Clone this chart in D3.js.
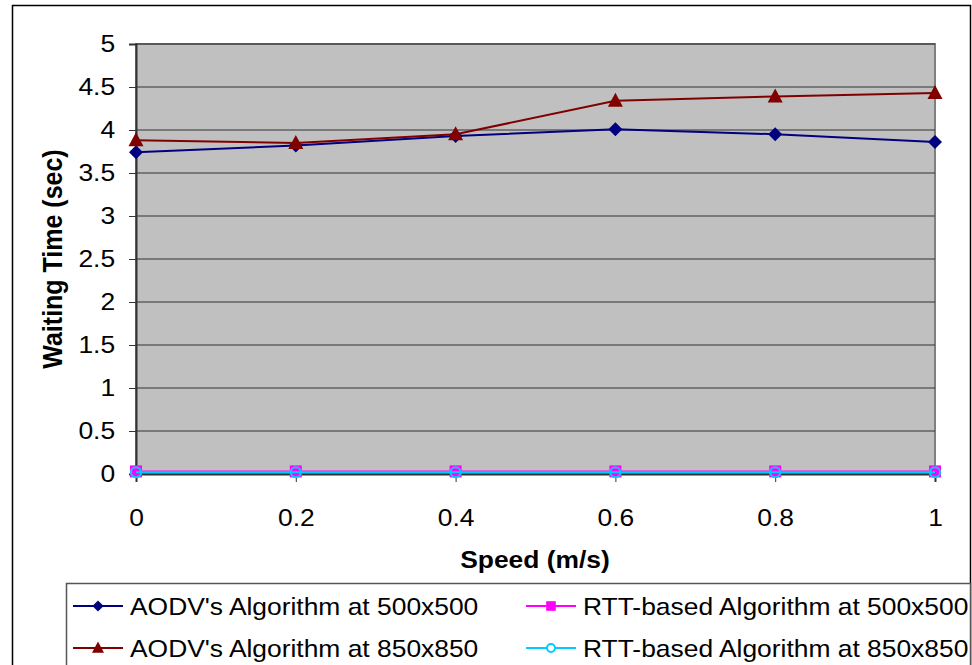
<!DOCTYPE html>
<html>
<head>
<meta charset="utf-8">
<script src="https://cdn.jsdelivr.net/npm/d3@7"></script>
<style>
  body { margin: 0; background: #fff; }
  text { font-family: "Liberation Sans", Arial, sans-serif; }
</style>
</head>
<body>
<div id="chart"></div>
<script>
// chart data
var speeds = [0, 0.2, 0.4, 0.6, 0.8, 1];
var aodv500 = [3.74, 3.82, 3.93, 4.01, 3.95, 3.86];
var aodv850 = [3.88, 3.85, 3.95, 4.34, 4.39, 4.43];
var rtt500 = [0.03, 0.03, 0.03, 0.03, 0.03, 0.03];
var rtt850 = [0.02, 0.02, 0.02, 0.02, 0.02, 0.02];
var yTicks = [0, 0.5, 1, 1.5, 2, 2.5, 3, 3.5, 4, 4.5, 5];
var xTicks = [0, 0.2, 0.4, 0.6, 0.8, 1];
var seriesNames = ["AODV's Algorithm at 500x500", "AODV's Algorithm at 850x850",
                   "RTT-based Algorithm at 500x500", "RTT-based Algorithm at 850x850"];

var series = [
  { name: seriesNames[0], values: aodv500, color: "#000080", marker: "diamond" },
  { name: seriesNames[1], values: aodv850, color: "#800000", marker: "triangle" },
  { name: seriesNames[2], values: rtt500, color: "#ff00ff", marker: "square" },
  { name: seriesNames[3], values: rtt850, color: "#00ccff", marker: "circle" }
];

var W = 972, H = 665;
var FS = 24;          // font size
var SX = 1.1;         // the original is a bit stretched sideways
var svg = d3.select("#chart").append("svg")
  .attr("width", W).attr("height", H);

// outer frame
svg.append("rect")
  .attr("x", 12.5).attr("y", 5.5)
  .attr("width", 958).attr("height", 670)
  .attr("fill", "#fff").attr("stroke", "#000").attr("stroke-width", 1.5);

var plot = { left: 136, right: 935, top: 44, bottom: 474 };

var x = d3.scaleLinear().domain([0, 1]).range([plot.left, plot.right]);
var y = d3.scaleLinear().domain([0, 5]).range([plot.bottom, plot.top]);

// plot background
svg.append("rect")
  .attr("x", plot.left).attr("y", plot.top)
  .attr("width", plot.right - plot.left).attr("height", plot.bottom - plot.top)
  .attr("fill", "#c0c0c0").attr("stroke", "#808080").attr("stroke-width", 2);

// gridlines
svg.selectAll("line.grid")
  .data(yTicks.filter(function(d) { return d > 0; }))
  .enter().append("line")
  .attr("class", "grid")
  .attr("x1", plot.left).attr("x2", plot.right)
  .attr("y1", function(d) { return y(d); })
  .attr("y2", function(d) { return y(d); })
  .attr("stroke", "#333").attr("stroke-width", 1);

// axes
var yAxis = d3.axisLeft(y).tickValues(yTicks).tickSize(7).tickPadding(12)
  .tickFormat(function(d) { return d3.format("")(d); });
var gy = svg.append("g").attr("transform", "translate(" + plot.left + ",0)").call(yAxis);
gy.select(".domain").attr("stroke", "#333").attr("stroke-width", 2);
gy.selectAll(".tick line").attr("stroke", "#333");
gy.selectAll(".tick text").attr("font-size", FS).attr("fill", "#000")
  .attr("transform", "scale(" + SX + ",1)")
  .style("font-family", "Liberation Sans, Arial, sans-serif");

var xAxis = d3.axisBottom(x).tickValues(xTicks).tickSize(8).tickPadding(44)
  .tickFormat(function(d) { return d3.format("")(d); });
var gx = svg.append("g").attr("transform", "translate(0," + plot.bottom + ")").call(xAxis);
gx.select(".domain").attr("stroke", "#333").attr("stroke-width", 2);
gx.selectAll(".tick line").attr("stroke", "#333");
gx.selectAll(".tick text").attr("font-size", FS).attr("fill", "#000")
  .attr("dy", 0)
  .attr("transform", "scale(" + SX + ",1)")
  .style("font-family", "Liberation Sans, Arial, sans-serif");

// axis titles
svg.append("text")
  .attr("transform", "translate(62,259) rotate(-90) scale(1," + SX + ")")
  .attr("text-anchor", "middle")
  .attr("font-size", 25).attr("font-weight", "bold")
  .text("Waiting Time (sec)");

svg.append("text")
  .attr("transform", "translate(535,568) scale(" + SX + ",1)")
  .attr("text-anchor", "middle")
  .attr("font-size", FS).attr("font-weight", "bold")
  .text("Speed (m/s)");

// marker drawing
function drawMarker(g, type, color, cx, cy, k, legendMode) {
  k = k || 1;
  if (type === "diamond") {
    g.append("path").attr("d", "M0,-7L7,0L0,7L-7,0Z")
      .attr("transform", "translate(" + cx + "," + cy + ") scale(" + k + ")")
      .attr("fill", color);
  } else if (type === "triangle") {
    g.append("path").attr("d", "M0,-8L7.5,6L-7.5,6Z")
      .attr("transform", "translate(" + cx + "," + cy + ") scale(" + k + ")")
      .attr("fill", color);
  } else if (type === "square") {
    var h = 6 * k;
    g.append("rect").attr("x", cx - h).attr("y", cy - h)
      .attr("width", 2 * h).attr("height", 2 * h).attr("fill", color);
  } else if (type === "circle") {
    g.append("circle").attr("cx", cx).attr("cy", cy).attr("r", 5 * k)
      .attr("fill", legendMode ? "#fff" : "none")
      .attr("stroke", color).attr("stroke-width", 2);
  }
}

var line = d3.line()
  .x(function(d, i) { return x(speeds[i]); })
  .y(function(d) { return y(d); });

series.forEach(function(s) {
  var g = svg.append("g");
  g.append("path").datum(s.values)
    .attr("d", line)
    .attr("fill", "none")
    .attr("stroke", s.color)
    .attr("stroke-width", 2);
  s.values.forEach(function(v, i) {
    drawMarker(g, s.marker, s.color, x(speeds[i]), y(v), 1, false);
  });
});

// legend
var legend = svg.append("g");
legend.append("rect")
  .attr("x", 66.5).attr("y", 583.5)
  .attr("width", 904).attr("height", 100)
  .attr("fill", "#fff").attr("stroke", "#555").attr("stroke-width", 1.5);

var legendPos = [
  { x: 73, y: 606 }, { x: 73, y: 648 },
  { x: 526, y: 606 }, { x: 526, y: 648 }
];
series.forEach(function(s, i) {
  var p = legendPos[i];
  legend.append("line")
    .attr("x1", p.x).attr("x2", p.x + 50)
    .attr("y1", p.y).attr("y2", p.y)
    .attr("stroke", s.color).attr("stroke-width", 2);
  drawMarker(legend, s.marker, s.color, p.x + 25, p.y, 0.8, true);
  legend.append("text")
    .attr("transform", "translate(" + (p.x + 57) + "," + (p.y + 8.5) + ") scale(" + SX + ",1)")
    .attr("font-size", FS)
    .text(s.name);
});
</script>
</body>
</html>
